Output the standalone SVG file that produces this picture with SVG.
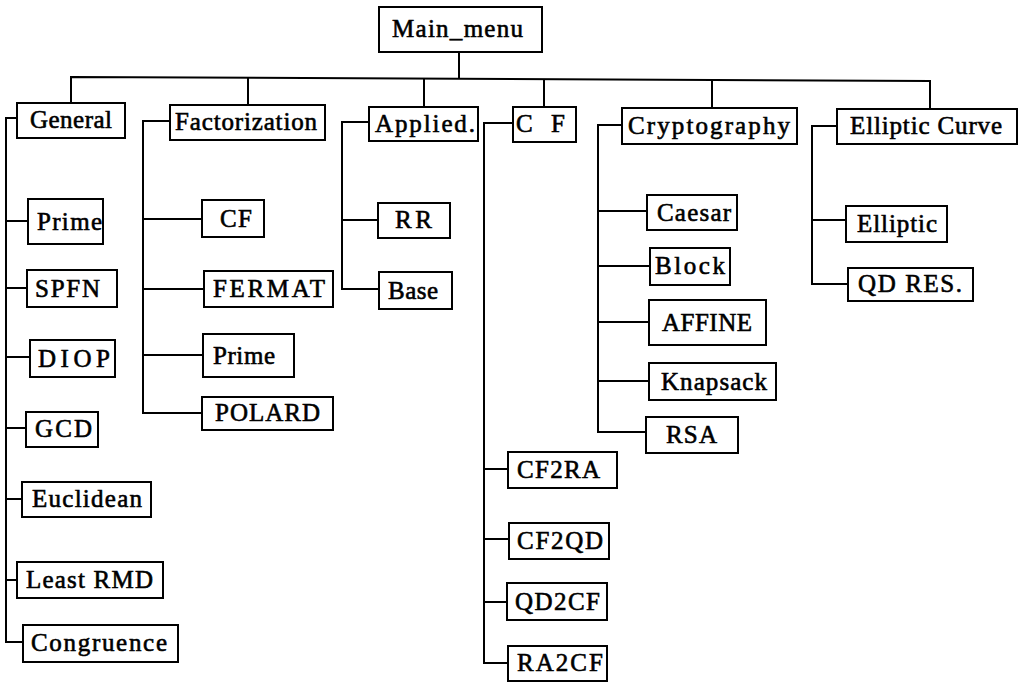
<svg xmlns="http://www.w3.org/2000/svg" width="1019" height="682" viewBox="0 0 1019 682">
<style>
.b{fill:#fff;stroke:#000;stroke-width:2}
.t{font-family:"Liberation Serif","Times New Roman",serif;font-size:25px;fill:#000;stroke:#000;stroke-width:0.6}
.c{fill:none;stroke:#000;stroke-width:2}
</style>
<rect width="1019" height="682" fill="#fff"/>
<g id="connectors">
<path class="c" d="M459,52 V78"/>
<path class="c" d="M71,103 V77 L930,81 V109"/>
<path class="c" d="M248,78 V105 M424,79 V107 M544,79 V107 M712,80 V108"/>
<path class="c" d="M17,118 H6 V642 H23 M6,221 H28 M6,288 H27 M6,357 H30 M6,428 H26 M6,499 H22 M6,580 H17"/>
<path class="c" d="M170,121 H143 V413 H202 M143,219 H202 M143,289 H204 M143,355 H203"/>
<path class="c" d="M369,122 H342 V289 H379 M342,220 H378"/>
<path class="c" d="M513,123 H484 V663 H508 M484,469 H508 M484,539 H509 M484,602 H507"/>
<path class="c" d="M622,125 H598 V432 H646 M598,211 H647 M598,266 H650 M598,322 H649 M598,381 H649"/>
<path class="c" d="M837,126 H812 V284 H848 M812,220 H846"/>
</g>
<g id="main_menu"><rect class="b" x="379" y="7" width="163" height="45"/><text class="t" x="392" y="37" textLength="131" lengthAdjust="spacing">Main_menu</text></g>
<g id="general"><rect class="b" x="17" y="103" width="108" height="35"/><text class="t" x="30" y="128" textLength="82" lengthAdjust="spacing">General</text></g>
<g id="factorization"><rect class="b" x="170" y="105" width="155" height="35"/><text class="t" x="175" y="130" textLength="142" lengthAdjust="spacing">Factorization</text></g>
<g id="applied"><rect class="b" x="369" y="107" width="109" height="34"/><text class="t" x="375" y="132" textLength="100" lengthAdjust="spacing">Applied.</text></g>
<g id="cf_menu"><rect class="b" x="513" y="107" width="63" height="35"/><text class="t" x="516" y="132" textLength="49" lengthAdjust="spacing">C F</text></g>
<g id="cryptography"><rect class="b" x="622" y="108" width="175" height="36"/><text class="t" x="628" y="134" textLength="162" lengthAdjust="spacing">Cryptography</text></g>
<g id="elliptic_curve"><rect class="b" x="837" y="109" width="180" height="35"/><text class="t" x="850" y="134" textLength="152" lengthAdjust="spacing">Elliptic Curve</text></g>
<g id="g_prime"><rect class="b" x="28" y="199" width="75" height="45"/><text class="t" x="37" y="230" textLength="65" lengthAdjust="spacing">Prime</text></g>
<g id="spfn"><rect class="b" x="27" y="270" width="90" height="37"/><text class="t" x="35" y="297" textLength="65" lengthAdjust="spacing">SPFN</text></g>
<g id="diop"><rect class="b" x="30" y="340" width="85" height="37"/><text class="t" x="38" y="367" textLength="72" lengthAdjust="spacing">DIOP</text></g>
<g id="gcd"><rect class="b" x="26" y="412" width="72" height="35"/><text class="t" x="35" y="437" textLength="57" lengthAdjust="spacing">GCD</text></g>
<g id="euclidean"><rect class="b" x="22" y="482" width="129" height="35"/><text class="t" x="32" y="507" textLength="110" lengthAdjust="spacing">Euclidean</text></g>
<g id="least_rmd"><rect class="b" x="17" y="562" width="146" height="36"/><text class="t" x="26" y="588" textLength="127" lengthAdjust="spacing">Least RMD</text></g>
<g id="congruence"><rect class="b" x="23" y="625" width="155" height="37"/><text class="t" x="31" y="651" textLength="136" lengthAdjust="spacing">Congruence</text></g>
<g id="f_cf"><rect class="b" x="202" y="200" width="62" height="37"/><text class="t" x="220" y="227" textLength="32" lengthAdjust="spacing">CF</text></g>
<g id="fermat"><rect class="b" x="204" y="271" width="129" height="36"/><text class="t" x="213" y="297" textLength="112" lengthAdjust="spacing">FERMAT</text></g>
<g id="f_prime"><rect class="b" x="203" y="334" width="91" height="43"/><text class="t" x="213" y="364" textLength="62" lengthAdjust="spacing">Prime</text></g>
<g id="polard"><rect class="b" x="202" y="397" width="131" height="33"/><text class="t" x="215" y="421" textLength="105" lengthAdjust="spacing">POLARD</text></g>
<g id="rr"><rect class="b" x="378" y="203" width="72" height="35"/><text class="t" x="395" y="228" textLength="37" lengthAdjust="spacing">RR</text></g>
<g id="base"><rect class="b" x="379" y="272" width="73" height="37"/><text class="t" x="388" y="299" textLength="50" lengthAdjust="spacing">Base</text></g>
<g id="cf2ra"><rect class="b" x="508" y="452" width="109" height="36"/><text class="t" x="517" y="478" textLength="83" lengthAdjust="spacing">CF2RA</text></g>
<g id="cf2qd"><rect class="b" x="509" y="523" width="100" height="36"/><text class="t" x="517" y="549" textLength="86" lengthAdjust="spacing">CF2QD</text></g>
<g id="qd2cf"><rect class="b" x="507" y="583" width="100" height="37"/><text class="t" x="515" y="610" textLength="85" lengthAdjust="spacing">QD2CF</text></g>
<g id="ra2cf"><rect class="b" x="508" y="646" width="99" height="35"/><text class="t" x="517" y="671" textLength="86" lengthAdjust="spacing">RA2CF</text></g>
<g id="caesar"><rect class="b" x="647" y="195" width="90" height="35"/><text class="t" x="657" y="221" textLength="74" lengthAdjust="spacing">Caesar</text></g>
<g id="block"><rect class="b" x="650" y="248" width="80" height="37"/><text class="t" x="655" y="274" textLength="70" lengthAdjust="spacing">Block</text></g>
<g id="affine"><rect class="b" x="649" y="300" width="117" height="45"/><text class="t" x="662" y="331" textLength="90" lengthAdjust="spacing">AFFINE</text></g>
<g id="knapsack"><rect class="b" x="649" y="363" width="127" height="37"/><text class="t" x="661" y="390" textLength="106" lengthAdjust="spacing">Knapsack</text></g>
<g id="rsa"><rect class="b" x="646" y="417" width="92" height="36"/><text class="t" x="666" y="443" textLength="51" lengthAdjust="spacing">RSA</text></g>
<g id="elliptic"><rect class="b" x="846" y="206" width="101" height="36"/><text class="t" x="857" y="232" textLength="80" lengthAdjust="spacing">Elliptic</text></g>
<g id="qd_res"><rect class="b" x="848" y="268" width="125" height="33"/><text class="t" x="858" y="292" textLength="104" lengthAdjust="spacing">QD RES.</text></g>
</svg>
